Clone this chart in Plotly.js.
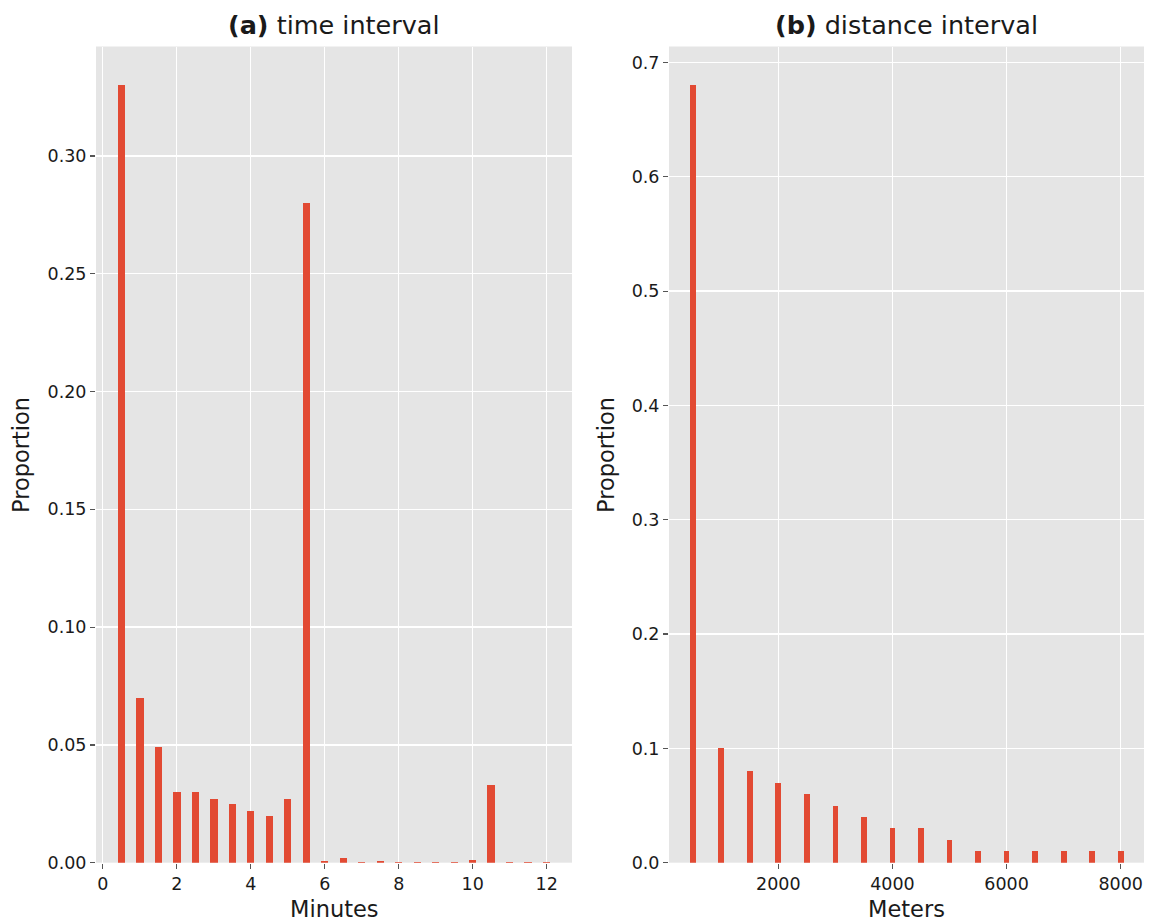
<!DOCTYPE html>
<html>
<head>
<meta charset="utf-8">
<script src="https://cdn.plot.ly/plotly-3.0.1.min.js"></script>
<style>
html,body{margin:0;padding:0;background:#fff;}
#chart{width:1149px;height:923px;}
</style>
</head>
<body>
<div id="chart"></div>
<script>
// (a) time interval
const minutes = [0.5,1,1.5,2,2.5,3,3.5,4,4.5,5,5.5,6,6.5,7,7.5,8,8.5,9,9.5,10,10.5,11,11.5,12];
const timeProportion = [0.33,0.07,0.049,0.030,0.030,0.027,0.025,0.022,0.020,0.027,0.28,0.0008,0.0022,0.0003,0.0008,0.0003,0.0003,0.0003,0.0003,0.0012,0.033,0.0003,0.0003,0.0003];

// (b) distance interval
const meters = [500,1000,1500,2000,2500,3000,3500,4000,4500,5000,5500,6000,6500,7000,7500,8000];
const distProportion = [0.68,0.10,0.08,0.07,0.06,0.05,0.04,0.03,0.03,0.02,0.01,0.01,0.01,0.01,0.01,0.01];

const titleA = '<b>(a)</b> time interval';
const titleB = '<b>(b)</b> distance interval';
const xLabelA = 'Minutes';
const xLabelB = 'Meters';
const yLabel = 'Proportion';

const barColor = '#E24A33';
const font = 'DejaVu Sans, sans-serif';

const traces = [
  {type:'bar', x:minutes, y:timeProportion, width:0.2, marker:{color:barColor, line:{width:0}}, xaxis:'x', yaxis:'y', hoverinfo:'x+y'},
  {type:'bar', x:meters, y:distProportion, width:100, marker:{color:barColor, line:{width:0}}, xaxis:'x2', yaxis:'y2', hoverinfo:'x+y'}
];

const axisCommon = {
  showgrid:true, gridcolor:'#ffffff', gridwidth:1.3,
  zeroline:false, showline:false,
  ticks:'outside', ticklen:5, tickwidth:1.2, tickcolor:'#555555',
  tickfont:{family:font, size:17.5, color:'#1a1a1a'},
  automargin:false
};

const layout = {
  width:1149, height:923,
  margin:{l:0,r:0,t:0,b:0},
  paper_bgcolor:'#ffffff',
  plot_bgcolor:'#E5E5E5',
  showlegend:false,
  bargap:0,
  font:{family:font, color:'#1a1a1a'},
  xaxis: Object.assign({}, axisCommon, {domain:[96/1149, 572/1149], range:[-0.185, 12.685], tick0:0, dtick:2, anchor:'y'}),
  yaxis: Object.assign({}, axisCommon, {domain:[(923-862.7)/923, (923-46.5)/923], range:[0, 0.3465], tick0:0, dtick:0.05, tickformat:'.2f', anchor:'x'}),
  xaxis2: Object.assign({}, axisCommon, {domain:[669/1149, 1144/1149], range:[85, 8408], tick0:0, dtick:2000, anchor:'y2'}),
  yaxis2: Object.assign({}, axisCommon, {domain:[(923-862.7)/923, (923-46.5)/923], range:[0, 0.714], tick0:0, dtick:0.1, tickformat:'.1f', anchor:'x2'}),
  annotations:[
    {text:titleA, xref:'paper', yref:'paper', x:334/1149, y:(923-25)/923, xanchor:'center', yanchor:'middle', showarrow:false, font:{family:font, size:25.5, color:'#1a1a1a'}},
    {text:titleB, xref:'paper', yref:'paper', x:906.5/1149, y:(923-25)/923, xanchor:'center', yanchor:'middle', showarrow:false, font:{family:font, size:25.5, color:'#1a1a1a'}},
    {text:xLabelA, xref:'paper', yref:'paper', x:334/1149, y:(923-909)/923, xanchor:'center', yanchor:'middle', showarrow:false, font:{family:font, size:22.5, color:'#1a1a1a'}},
    {text:xLabelB, xref:'paper', yref:'paper', x:906.5/1149, y:(923-909)/923, xanchor:'center', yanchor:'middle', showarrow:false, font:{family:font, size:22.5, color:'#1a1a1a'}},
    {text:yLabel, xref:'paper', yref:'paper', x:21/1149, y:(923-455)/923, xanchor:'center', yanchor:'middle', textangle:-90, showarrow:false, font:{family:font, size:22.5, color:'#1a1a1a'}},
    {text:yLabel, xref:'paper', yref:'paper', x:606/1149, y:(923-455)/923, xanchor:'center', yanchor:'middle', textangle:-90, showarrow:false, font:{family:font, size:22.5, color:'#1a1a1a'}}
  ]
};

Plotly.newPlot('chart', traces, layout, {displayModeBar:false, staticPlot:true});
</script>
</body>
</html>
